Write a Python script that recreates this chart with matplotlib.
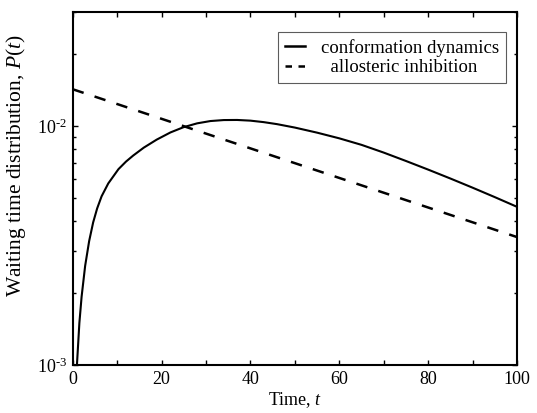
import matplotlib
matplotlib.use("Agg")
import matplotlib.pyplot as plt
from matplotlib.lines import Line2D
from matplotlib.ticker import FixedLocator, LogLocator, NullFormatter, FuncFormatter

plt.rcParams['font.family'] = ['Liberation Serif', 'DejaVu Serif']
plt.rcParams['mathtext.fontset'] = 'custom'
plt.rcParams['mathtext.rm'] = 'Liberation Serif'
plt.rcParams['mathtext.it'] = 'Liberation Serif:italic'

# conformation dynamics (solid)
t_conf = [0.95, 1.5, 2.0, 2.8, 3.7, 4.6, 5.5, 6.5, 8.0, 10.3, 12.0, 13.6, 16.0,
          18.9, 22.0, 24.9, 28.0, 31.0, 34.0, 37.0, 40.0, 43.0, 46.0, 50.0, 55.0,
          60.0, 65.0, 70.0, 75.0, 80.0, 85.0, 90.0, 95.0, 100.0]
p_conf = [0.00100, 0.00150, 0.00193, 0.00260, 0.00330, 0.00395, 0.00452, 0.00508,
          0.00575, 0.00660, 0.00710, 0.00752, 0.00812, 0.00877, 0.00940, 0.00988,
          0.01026, 0.01049, 0.01059, 0.01060, 0.01053, 0.01038, 0.01018, 0.00985,
          0.00938, 0.00888, 0.00834, 0.00774, 0.00714, 0.00657, 0.00603, 0.00552,
          0.00504, 0.00459]

# allosteric inhibition (dashed)
t_allo = [0.0, 100.0]
p_allo = [0.01425, 0.00343]

labels = ["conformation dynamics", "allosteric inhibition"]

fig = plt.figure(figsize=(5.37, 4.13), dpi=100)
ax = fig.add_axes([0.1354, 0.1162, 0.8274, 0.8548])

ax.plot(t_conf, p_conf, color='black', lw=1.5)
ax.plot(t_allo, p_allo, color='black', lw=1.8, ls=(0, (4.6, 4.6)))

ax.set_yscale('log')
ax.set_xlim(0, 100)
ax.set_ylim(1e-3, 3e-2)

ax.xaxis.set_major_locator(FixedLocator([0, 20, 40, 60, 80, 100]))
ax.xaxis.set_minor_locator(FixedLocator([10, 30, 50, 70, 90]))
ax.yaxis.set_major_locator(FixedLocator([1e-3, 1e-2]))
ax.yaxis.set_minor_locator(LogLocator(base=10, subs=range(2, 10)))
ax.yaxis.set_minor_formatter(NullFormatter())
ax.yaxis.set_major_formatter(FuncFormatter(
    lambda v, p: '$10^{\u2010' + ('3' if v < 5e-3 else '2') + '}$'))

ax.tick_params(which='both', direction='in', top=True, right=True, labelsize=13,
               width=1.0)
ax.tick_params(which='major', length=3.5, pad=4)
ax.tick_params(which='minor', length=2.2)
ax.tick_params(axis='x', which='minor', length=3.5)
for s in ax.spines.values():
    s.set_linewidth(1.5)

ax.set_xlabel(r'Time, $\mathit{t}$', fontsize=13, labelpad=2)
ax.set_ylabel(r'Waiting time distribution, $\mathit{P(t)}$', fontsize=15.5)
ax.yaxis.set_label_coords(-0.100, 0.565)

handles = [Line2D([], [], color='black', lw=1.8),
           Line2D([], [], color='black', lw=1.8, ls=(0, (2.6, 2.6)))]
leg_labels = [labels[0], "  " + labels[1]]
leg = ax.legend(handles, leg_labels, loc='upper right',
                bbox_to_anchor=(0.975, 0.943), fontsize=13.5,
                frameon=True, fancybox=False, handlelength=1.1,
                handletextpad=0.85, borderpad=0.35, labelspacing=0.15,
                borderaxespad=0.0)
leg.get_frame().set_edgecolor('#333333')
leg.get_frame().set_linewidth(0.8)

fig.savefig('out.png', dpi=100)
